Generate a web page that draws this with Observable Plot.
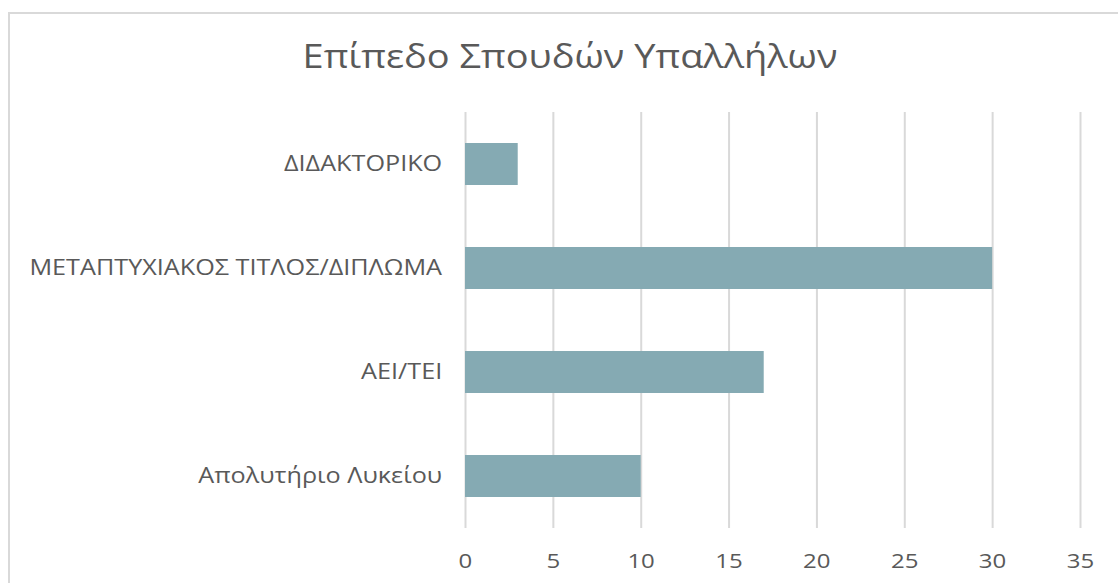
<!DOCTYPE html>
<html>
<head>
<meta charset="utf-8">
<script src="https://cdn.jsdelivr.net/npm/d3@7"></script>
<script src="https://cdn.jsdelivr.net/npm/@observablehq/plot@0.6"></script>
<style>
  html, body { margin: 0; padding: 0; background: #fff; width: 1118px; height: 583px; overflow: hidden; position: relative; font-family: "Open Sans", "Noto Sans", sans-serif; }
  #frame { position: absolute; left: 8px; top: 12px; width: 1200px; height: 700px; border: 2px solid #d9d9d9; box-sizing: border-box; }
  #title { position: absolute; left: 0; width: 1140px; top: 36px; text-align: center; font-size: 33px; color: #595959; line-height: 1.2; white-space: nowrap; transform: scaleX(1.15); transform-origin: 570px 0; }
  #chart { position: absolute; left: 0; top: 100px; }
</style>
</head>
<body>
<div id="frame"></div>
<div id="title">Επίπεδο Σπουδών Υπαλλήλων</div>
<div id="chart"></div>
<script>
const categories = ["ΔΙΔΑΚΤΟΡΙΚΟ", "ΜΕΤΑΠΤΥΧΙΑΚΟΣ ΤΙΤΛΟΣ/ΔΙΠΛΩΜΑ", "ΑΕΙ/ΤΕΙ", "Απολυτήριο Λυκείου"];
const values = [3, 30, 17, 10];
const xTicks = [0, 5, 10, 15, 20, 25, 30, 35];

const data = categories.map((c, i) => ({category: c, value: values[i]}));

const chart = Plot.plot({
  width: 1118,
  height: 483,
  marginLeft: 465,
  marginRight: 38,
  marginTop: 12,
  marginBottom: 55,
  style: { fontFamily: '"Open Sans", "Noto Sans", sans-serif', color: "#595959", background: "transparent" },
  x: { domain: [0, 35], ticks: xTicks, label: null },
  y: { domain: categories, paddingInner: 0.6, paddingOuter: 0.3, label: null },
  marks: [
    Plot.ruleX(xTicks, { stroke: "#d9d9d9", strokeWidth: 2 }),
    Plot.barX(data, { x: "value", y: "category", fill: "#85aab3" }),
    Plot.axisX({ ticks: xTicks, tickSize: 0, tickPadding: 25, fontSize: 20, fill: "#595959", label: null }),
    Plot.axisY({ tickSize: 0, tickPadding: 29, fontSize: 21, fill: "#595959", label: null })
  ]
});
document.getElementById("chart").appendChild(chart);

// Stretch tick label glyphs horizontally to match the wide face of the original
const svgRect = chart.getBoundingClientRect();
const NS = "http://www.w3.org/2000/svg";
function stretch(selector, mode, k) {
  chart.querySelectorAll(selector).forEach(t => {
    const r = t.getBoundingClientRect();
    const ax = mode === "right" ? r.right - svgRect.left : r.left + r.width / 2 - svgRect.left;
    const g = document.createElementNS(NS, "g");
    g.setAttribute("transform", `translate(${ax},0) scale(${k},1) translate(${-ax},0)`);
    t.parentNode.insertBefore(g, t);
    g.appendChild(t);
  });
}
stretch('g[aria-label="x-axis tick label"] text', "center", 1.2);
stretch('g[aria-label="y-axis tick label"] text', "right", 1.2);
</script>
</body>
</html>
